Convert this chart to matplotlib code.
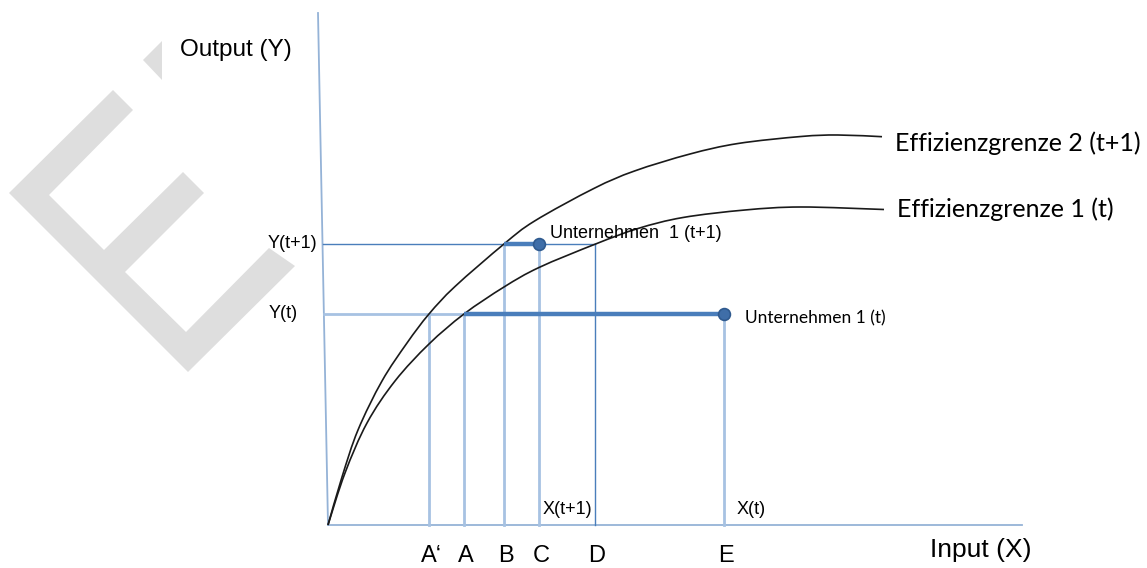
import matplotlib
matplotlib.use("Agg")
import matplotlib.pyplot as plt
from matplotlib.path import Path
from matplotlib.patches import PathPatch, Polygon

# positions on the input axis (origin = 0)
point_labels = ["A‘", "A", "B", "C", "D", "E"]
point_x = [101, 136, 176, 211, 267, 396]

# output levels
y_t = 211
y_t1 = 281

# firm 1 in period t and t+1 (input, output)
firm_t = (396, 211)
firm_t1 = (211, 281)

# efficiency frontiers
front2_x = [0, 14, 30, 54, 79, 101, 127, 176, 206.6, 265.8, 306.5, 362, 410, 473, 510, 554]
front2_y = [0, 48, 95, 144, 182, 211, 238.5, 281, 304, 336.5, 354, 371, 381.5, 388.5, 390, 388.3]
front1_x = [0, 17, 39, 67, 101, 136, 176, 211, 267.6, 310, 355, 417, 473, 556]
front1_y = [0, 52, 102, 144, 181, 211, 238, 257.5, 281, 296.5, 307.5, 315, 318, 315.5]

# grey watermark (picture pixels)
mark_outer = [(113, 90), (133, 110), (49, 195), (104, 250), (183, 172), (204, 193),
              (125, 272), (186, 332), (269, 248), (295, 266), (188, 372), (9, 193)]
mark_tri = [(143, 60), (162, 41), (162, 80)]

AXIS = "#95b3d7"
LIGHT = "#a7c2e2"
DARK = "#4a7ebb"
GREY = "#dedede"


def px(p):
    # picture pixel -> data coordinates
    return (p[0] - 328, 525 - p[1])


def smooth_path(xs, ys):
    # Catmull-Rom through the read points, drawn as cubic Beziers
    pts = list(zip(xs, ys))
    verts = [pts[0]]
    codes = [Path.MOVETO]
    n = len(pts)
    for i in range(n - 1):
        p0 = pts[i - 1] if i > 0 else pts[i]
        p1 = pts[i]
        p2 = pts[i + 1]
        p3 = pts[i + 2] if i + 2 < n else pts[i + 1]
        c1 = (p1[0] + (p2[0] - p0[0]) / 6, p1[1] + (p2[1] - p0[1]) / 6)
        c2 = (p2[0] - (p3[0] - p1[0]) / 6, p2[1] - (p3[1] - p1[1]) / 6)
        verts += [c1, c2, p2]
        codes += [Path.CURVE4] * 3
    return Path(verts, codes)


fig = plt.figure(figsize=(11.47, 5.68), dpi=100)
ax = fig.add_axes([0, 0, 1, 1])
ax.set_xlim(-328, 819)
ax.set_ylim(-43, 525)
ax.axis("off")

# watermark
ax.add_patch(Polygon([px(p) for p in mark_outer], closed=True, color=GREY, lw=0, zorder=0))
ax.add_patch(Polygon([px(p) for p in mark_tri], closed=True, color=GREY, lw=0, zorder=0))

# axes
ax.plot([-10, 0], [512, 0], color=AXIS, lw=1.3, zorder=1)
ax.plot([0, 694], [0, 0], color=AXIS, lw=1.3, zorder=1)

# helper lines
ax.plot([-5, point_x[4]], [y_t1, y_t1], color=DARK, lw=1.0, zorder=2)
ax.plot([point_x[4], point_x[4]], [0, y_t1], color=DARK, lw=1.0, zorder=2)
ax.plot([-4, point_x[1]], [y_t, y_t], color=LIGHT, lw=2.0, zorder=2)
for i, x in enumerate(point_x):
    if i == 4:
        continue
    top = y_t1 if i in (2, 3) else y_t
    ax.plot([x, x], [0, top], color=LIGHT, lw=2.0, zorder=2)

# frontiers
ax.add_patch(PathPatch(smooth_path(front2_x, front2_y), fill=False, color="#1a1a1a", lw=1.2, zorder=3))
ax.add_patch(PathPatch(smooth_path(front1_x, front1_y), fill=False, color="#1a1a1a", lw=1.2, zorder=3))

# inefficiency distances
ax.plot([point_x[1], firm_t[0]], [y_t, y_t], color=DARK, lw=3.2, zorder=4, solid_capstyle="butt")
ax.plot([point_x[2], firm_t1[0]], [y_t1, y_t1], color=DARK, lw=3.2, zorder=4, solid_capstyle="butt")
ax.plot([firm_t[0], firm_t1[0]], [firm_t[1], firm_t1[1]], ls="none", marker="o", ms=8.5,
        mfc="#3f6ea8", mec="#2f5a8f", mew=1.2, zorder=5)

arial = "Liberation Sans"
calibri = "Lato"

ax.text(-148, 475, "Output (Y)", fontsize=17.5, family=arial, va="center", ha="left")
ax.text(602, -25, "Input (X)", fontsize=19, family=arial, va="center", ha="left")
for lab, x in zip(point_labels, point_x):
    ax.text(x + 2, -31, lab, fontsize=17, family=arial, va="center", ha="center")

ax.text(-11, 282, "Y(t+1)", fontsize=13, family=arial, va="center", ha="right")
ax.text(-45, 212, "Y(t)", fontsize=13, family=arial, va="center", ha="center")
ax.text(215, 15, "X(t+1)", fontsize=13, family=arial, va="center", ha="left")
ax.text(409, 16, "X(t)", fontsize=13, family=arial, va="center", ha="left")

ax.text(222, 292, "Unternehmen  1 (t+1)", fontsize=13, family=arial, va="center", ha="left")
ax.text(417, 207, "Unternehmen 1 (t)", fontsize=12.5, family=calibri, va="center", ha="left")
ax.text(567, 382, "Effizienzgrenze 2 (t+1)", fontsize=18, family=calibri, va="center", ha="left")
ax.text(569, 316, "Effizienzgrenze 1 (t)", fontsize=18, family=calibri, va="center", ha="left")

fig.savefig("out.png", dpi=100)
